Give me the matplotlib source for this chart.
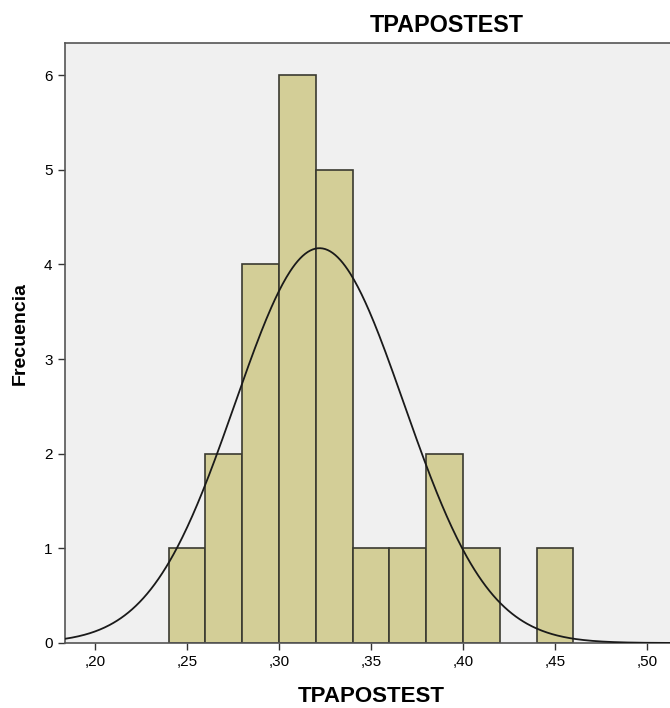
import numpy as np
import matplotlib
matplotlib.use("Agg")
import matplotlib.pyplot as plt

plt.rcParams['font.family'] = ['Liberation Sans', 'DejaVu Sans']

# Data
bin_edges_left = [0.24, 0.26, 0.28, 0.30, 0.32, 0.34, 0.36, 0.38, 0.40, 0.44]
counts = [1, 2, 4, 6, 5, 1, 1, 2, 1, 1]
bin_width = 0.02
n_obs = 24
mean_val = 0.322
sd_val = 0.0459
xticks = [0.20, 0.25, 0.30, 0.35, 0.40, 0.45, 0.50]
xtick_labels = [',20', ',25', ',30', ',35', ',40', ',45', ',50']
yticks = [0, 1, 2, 3, 4, 5, 6]

fig = plt.figure(figsize=(6.70, 7.08), dpi=100)
ax = fig.add_axes([65/670, 1-643/708, 605/670, 600/708])
ax.set_facecolor('#F0F0F0')

ax.bar(bin_edges_left, counts, width=bin_width, align='edge',
       color='#D3CE97', edgecolor='#3a3a30', linewidth=1.2, zorder=2)

xs = np.linspace(0.18, 0.52, 500)
ys = n_obs * bin_width / (sd_val * np.sqrt(2*np.pi)) * np.exp(-0.5*((xs-mean_val)/sd_val)**2)
ax.plot(xs, ys, color='#1a1a1a', linewidth=1.3, zorder=3)

ax.set_xlim(0.1837, 0.5125)
ax.set_ylim(0, 6.34)
ax.set_xticks(xticks)
ax.set_xticklabels(xtick_labels, fontsize=11)
ax.set_yticks(yticks)
ax.set_yticklabels([str(v) for v in yticks], fontsize=11)
ax.tick_params(axis='both', length=5, width=1, color='#333333', direction='out', pad=4)

ax.spines['right'].set_visible(False)
for s in ['left', 'bottom', 'top']:
    ax.spines[s].set_color('#555555')
    ax.spines[s].set_linewidth(1.2)

fig.text(371/670, 1-697/708, 'TPAPOSTEST', ha='center', va='center',
         fontsize=16, fontweight='bold')
fig.text(20/670, 1-334/708, 'Frecuencia', ha='center', va='center',
         rotation=90, fontsize=14, fontweight='bold')
fig.text(447/670, 1-25/708, 'TPAPOSTEST', ha='center', va='center',
         fontsize=16.8, fontweight='bold')

fig.savefig('out.png', dpi=100)
